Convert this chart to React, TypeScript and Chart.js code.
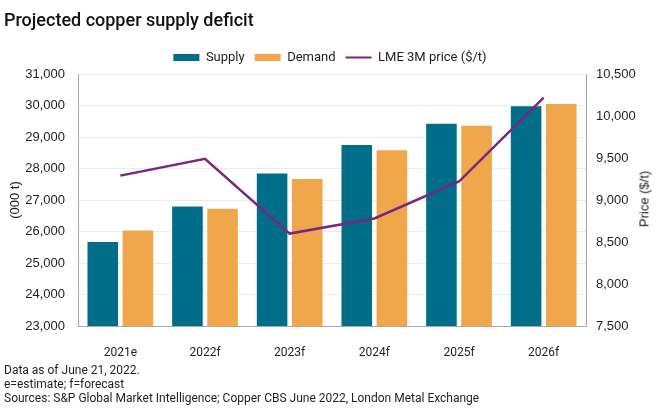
import React, { useEffect, useRef } from "react";
import { Chart, registerables } from "chart.js";

Chart.register(...registerables);

const categories = ["2021e", "2022f", "2023f", "2024f", "2025f", "2026f"];
const supply = [25670, 26790, 27840, 28750, 29420, 29980];
const demand = [26030, 26720, 27670, 28580, 29360, 30050];
const lmePrice = [9290, 9490, 8600, 8780, 9220, 10220];

const leftTicks = { min: 23000, max: 31000, step: 1000 };
const rightTicks = { min: 7500, max: 10500, step: 500 };

const title = "Projected copper supply deficit";
const leftTitle = "(000 t)";
const rightTitle = "Price ($/t)";
const notes = [
  "Data as of June 21, 2022.",
  "e=estimate; f=forecast",
  "Sources: S&P Global Market Intelligence; Copper CBS June 2022, London Metal Exchange",
];

const TEAL = "#006E89";
const ORANGE = "#F0A64B";
const PURPLE = "#7A2582";
const TEXT = "#1f1f1f";

export default function App() {
  const ref = useRef<HTMLCanvasElement | null>(null);

  useEffect(() => {
    if (!ref.current) return;
    const fmt = (v: number) => v.toLocaleString("en-US");
    const chart = new Chart(ref.current, {
      type: "bar",
      data: {
        labels: categories,
        datasets: [
          {
            label: "Supply",
            data: supply,
            backgroundColor: TEAL,
            yAxisID: "y",
            order: 2,
            categoryPercentage: 0.83,
            barPercentage: 0.87,
          },
          {
            label: "Demand",
            data: demand,
            backgroundColor: ORANGE,
            yAxisID: "y",
            order: 2,
            categoryPercentage: 0.83,
            barPercentage: 0.87,
          },
          {
            type: "line",
            label: "LME 3M price ($/t)",
            data: lmePrice,
            borderColor: PURPLE,
            backgroundColor: PURPLE,
            borderWidth: 2.5,
            pointRadius: 0,
            tension: 0,
            yAxisID: "y1",
            order: 0,
          } as any,
        ],
      },
      options: {
        responsive: false,
        animation: false,
        maintainAspectRatio: false,
        layout: { padding: { top: 41, left: 0, right: 0, bottom: 0 } },
        plugins: {
          tooltip: { enabled: false },
          legend: {
            display: true,
            position: "top",
            align: "center",
            labels: {
              usePointStyle: true,
              pointStyleWidth: 26,
              boxHeight: 7,
              padding: 10,
              color: TEXT,
              font: { family: "Roboto", size: 13 },
              sort: (a: any, b: any) => a.datasetIndex - b.datasetIndex,
              generateLabels: (c: any) =>
                Chart.defaults.plugins.legend.labels
                  .generateLabels(c)
                  .map((l: any) => ({
                    ...l,
                    pointStyle: l.datasetIndex === 2 ? "line" : "rect",
                    lineWidth: l.datasetIndex === 2 ? 2 : 0,
                  })),
            },
          },
        },
        scales: {
          x: {
            grid: { display: false },
            border: { display: true, color: "#a8a8a8", width: 1 },
            ticks: {
              color: TEXT,
              font: { family: "Roboto", size: 12 },
              padding: 12,
            },
            afterFit: (s: any) => {
              s.height = 88;
            },
          },
          y: {
            position: "left",
            min: leftTicks.min,
            max: leftTicks.max,
            grid: { color: "#ebebeb", drawTicks: false },
            border: { display: true, color: "#a8a8a8", width: 1 },
            ticks: {
              stepSize: leftTicks.step,
              color: TEXT,
              padding: 13,
              font: { family: "Liberation Sans", size: 13 },
              callback: (v: any) => fmt(Number(v)),
            },
            title: {
              display: true,
              text: leftTitle,
              color: TEXT,
              font: { family: "Liberation Sans", size: 13 },
              padding: { top: 8, bottom: 0 },
            },
            afterFit: (s: any) => {
              s.width = 78;
            },
          },
          y1: {
            position: "right",
            min: rightTicks.min,
            max: rightTicks.max,
            grid: { drawOnChartArea: false, drawTicks: false },
            border: { display: true, color: "#a8a8a8", width: 1 },
            ticks: {
              stepSize: rightTicks.step,
              color: TEXT,
              padding: 10,
              font: { family: "Liberation Sans", size: 13 },
              callback: (v: any) => fmt(Number(v)),
            },
            afterFit: (s: any) => {
              s.width = 74;
            },
          },
        },
      },
    });
    return () => chart.destroy();
  }, []);

  return (
    <div
      style={{
        position: "fixed",
        left: 0,
        top: 0,
        width: 660,
        height: 414,
        background: "#fff",
        overflow: "hidden",
      }}
    >
      <canvas
        ref={ref}
        width={660}
        height={414}
        style={{ position: "absolute", left: 0, top: 0, width: 660, height: 414 }}
      />
      <div
        style={{
          position: "absolute",
          left: 4,
          top: 9,
          fontFamily: "Roboto",
          fontWeight: 500,
          fontSize: 18,
          lineHeight: "22px",
          color: "#111",
          whiteSpace: "nowrap",
        }}
      >
        {title}
      </div>
      <div
        style={{
          position: "absolute",
          left: 644,
          top: 199,
          transform: "translate(-50%, -50%) rotate(-90deg)",
          fontFamily: "Liberation Sans",
          fontSize: 13,
          lineHeight: "15px",
          color: TEXT,
          whiteSpace: "nowrap",
        }}
      >
        {rightTitle}
      </div>
      <div
        style={{
          position: "absolute",
          left: 4,
          top: 363,
          fontFamily: "Roboto",
          fontSize: 12,
          lineHeight: "14px",
          color: TEXT,
          whiteSpace: "nowrap",
        }}
      >
        {notes.map((n) => (
          <div key={n}>{n}</div>
        ))}
      </div>
    </div>
  );
}
